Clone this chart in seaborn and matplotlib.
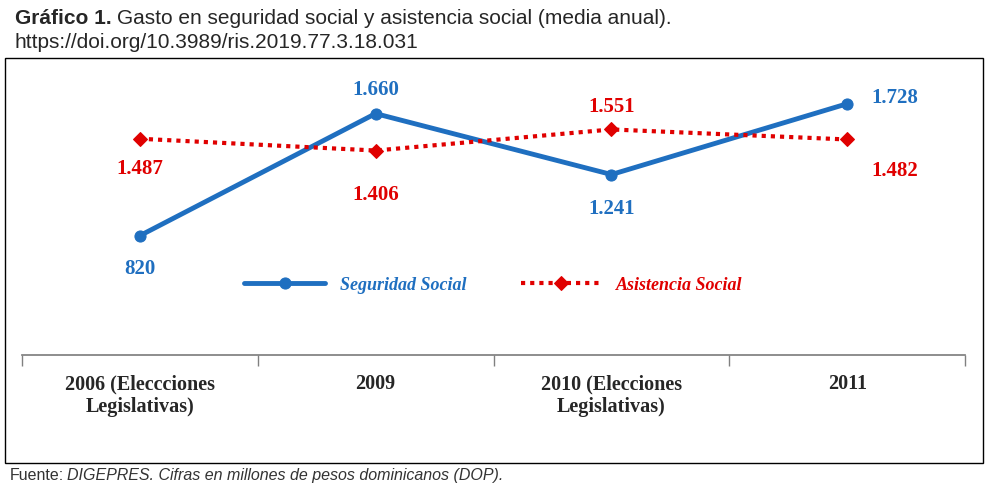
import matplotlib
matplotlib.use("Agg")
import matplotlib.pyplot as plt
import seaborn as sns
import pandas as pd
from matplotlib.patches import Rectangle

# ================= DATA =================
categories = ["2006 (Eleccciones\nLegislativas)", "2009", "2010 (Elecciones\nLegislativas)", "2011"]
seguridad = [820, 1660, 1241, 1728]
asistencia = [1487, 1406, 1551, 1482]
seg_labels = ["820", "1.660", "1.241", "1.728"]
asi_labels = ["1.487", "1.406", "1.551", "1.482"]

blue = "#1f6fc0"
red = "#e00000"

sns.set_theme(style="white")
plt.rcParams["font.family"] = ["Liberation Serif", "DejaVu Serif"]

df = pd.DataFrame({"x": range(len(categories)), "seg": seguridad, "asi": asistencia})

fig = plt.figure(figsize=(9.89, 4.9), dpi=100)
ax = fig.add_axes([0.022, 0.2755, 0.954, 0.6025])

sns.lineplot(data=df, x="x", y="seg", ax=ax, color=blue, lw=3.5, marker="o",
             markersize=8, markeredgecolor=blue, label="Seguridad Social")
sns.lineplot(data=df, x="x", y="asi", ax=ax, color=red, lw=3, ls=(0, (1, 1.2)),
             marker="D", markersize=7, markeredgecolor=red, label="Asistencia Social")

ax.set_xlim(-0.5, 3.5)
ax.set_ylim(0, 2030)
ax.set_xlabel("")
ax.set_ylabel("")
ax.set_yticks([])
for s in ["top", "left", "right"]:
    ax.spines[s].set_visible(False)
ax.spines["bottom"].set_color("#808080")
ax.set_xticks(range(len(categories)))
ax.set_xticklabels(categories, fontsize=14.5, fontweight="bold")
ax.set_xticks([-0.5, 0.5, 1.5, 2.5, 3.5], minor=True)
ax.tick_params(axis="x", which="major", length=0, pad=14)
ax.tick_params(axis="x", which="minor", length=8, color="#808080", bottom=True, direction="out")

# value labels
seg_off = [(0, -24), (0, 17), (0, -25), (34, 4)]
asi_off = [(0, -22), (0, -32), (0, 16), (34, -23)]
for i in range(4):
    ax.annotate(seg_labels[i], (i, seguridad[i]), xytext=seg_off[i], textcoords="offset points",
                ha="center", va="center", color=blue, fontsize=15, fontweight="bold")
    ax.annotate(asi_labels[i], (i, asistencia[i]), xytext=asi_off[i], textcoords="offset points",
                ha="center", va="center", color=red, fontsize=15, fontweight="bold")

leg = ax.legend(loc="center", bbox_to_anchor=(0.5, 0.237), ncol=2, frameon=False,
                handlelength=4.5, columnspacing=3.0, prop={"style": "italic", "weight": "bold", "size": 13})
for t, c in zip(leg.get_texts(), [blue, red]):
    t.set_color(c)

# frame around the chart
fig.patches.append(Rectangle((5 / 989, 1 - 463 / 490), 978 / 989, 405 / 490, transform=fig.transFigure,
                             fill=False, edgecolor="black", lw=1))

# title and source
sans = ["Liberation Sans", "DejaVu Sans"]
t1 = fig.text(15 / 989, 1 - 18 / 490, "Gráfico 1.", family=sans, fontsize=15, fontweight="bold", va="center")
fig.canvas.draw()
bb = t1.get_window_extent()
fig.text((bb.x1 + 5) / 989, 1 - 18 / 490, "Gasto en seguridad social y asistencia social (media anual).",
         family=sans, fontsize=15, va="center")
fig.text(15 / 989, 1 - 42 / 490, "https://doi.org/10.3989/ris.2019.77.3.18.031", family=sans, fontsize=15, va="center")
f1 = fig.text(10 / 989, 1 - 475 / 490, "Fuente:", family=sans, fontsize=11.5, va="center", color="#333333")
fig.canvas.draw()
bb = f1.get_window_extent()
fig.text((bb.x1 + 3) / 989, 1 - 475 / 490, "DIGEPRES. Cifras en millones de pesos dominicanos (DOP).",
         family=sans, fontsize=11.5, style="italic", va="center", color="#333333")

fig.savefig("out.png", dpi=100)
